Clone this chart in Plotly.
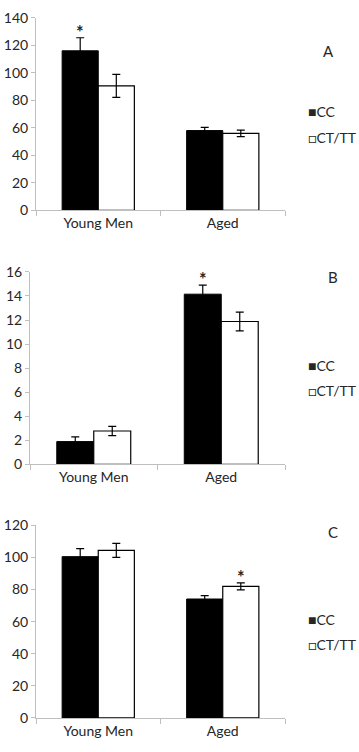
import plotly.graph_objects as go

categories = ["Young Men", "Aged"]
series_names = ["CC", "CT/TT"]

# Panel A
a_cc = [116, 58]
a_cc_err = [9.5, 2.3]
a_ct = [90.5, 56]
a_ct_err = [8.3, 2.4]

# Panel B
b_cc = [1.9, 14.15]
b_cc_err = [0.4, 0.75]
b_ct = [2.78, 11.88]
b_ct_err = [0.38, 0.78]

# Panel C
c_cc = [100.5, 74.1]
c_cc_err = [5.0, 2.1]
c_ct = [104.4, 82.0]
c_ct_err = [4.4, 2.2]

panel_labels = ["A", "B", "C"]
y_ranges = [[0, 140], [0, 16], [0, 120]]
y_dticks = [20, 2, 20]
# significance marks: (panel index, category, series index)
stars = [(0, "Young Men", 0), (1, "Aged", 0), (2, "Aged", 1)]

W, H = 359, 752
FONT = "Lato, 'Open Sans', sans-serif"
TXT = "#262626"
AX = "#bfbfbf"

panels = [
    (a_cc, a_cc_err, a_ct, a_ct_err),
    (b_cc, b_cc_err, b_ct, b_ct_err),
    (c_cc, c_cc_err, c_ct, c_ct_err),
]

# pixel geometry of each plot area (top, bottom, left, right)
geom = [(9, 206, 36, 285), (269, 466, 30, 285), (528.3, 725.3, 36, 285)]

fig = go.Figure()
for i, (cc, cce, ct, cte) in enumerate(panels):
    sfx = "" if i == 0 else str(i + 1)
    fig.add_trace(go.Bar(
        x=categories, y=cc, name=series_names[0],
        marker=dict(color="black", line=dict(color="black", width=1)),
        error_y=dict(type="data", array=cce, color="black", thickness=1.2, width=4),
        xaxis="x" + sfx, yaxis="y" + sfx, showlegend=False,
    ))
    fig.add_trace(go.Bar(
        x=categories, y=ct, name=series_names[1],
        marker=dict(color="white", line=dict(color="black", width=1.2)),
        error_y=dict(type="data", array=cte, color="black", thickness=1.2, width=4),
        xaxis="x" + sfx, yaxis="y" + sfx, showlegend=False,
    ))
    top, bot, left, right = geom[i]
    fig.update_layout(**{
        "xaxis" + sfx: dict(
            domain=[left / W, right / W], anchor="y" + sfx,
            showline=True, linecolor=AX, linewidth=1,
            ticks="outside", tickson="boundaries", ticklen=5, tickcolor=AX,
            tickfont=dict(family=FONT, size=14, color=TXT),
            showgrid=False, zeroline=False, fixedrange=True,
        ),
        "yaxis" + sfx: dict(
            domain=[1 - bot / H, 1 - top / H], anchor="x" + sfx,
            range=y_ranges[i], dtick=y_dticks[i],
            showline=True, linecolor=AX, linewidth=1,
            ticks="outside", ticklen=4, tickcolor=AX,
            tickfont=dict(family=FONT, size=14, color=TXT),
            showgrid=False, zeroline=False, fixedrange=True,
        ),
    })

annotations = []
# panel letters and legend texts
letter_pos = [(328, 43), (333, 274), (333, 535)]
legend_pos = [(105, 131.7), (365, 390.7), (624.3, 650.7)]
for i in range(3):
    lx, ly = letter_pos[i]
    annotations.append(dict(
        text=panel_labels[i], x=lx / W, y=1 - ly / H, xref="paper", yref="paper",
        xanchor="center", yanchor="middle", showarrow=False,
        font=dict(family=FONT, size=15, color=TXT),
    ))
    y1, y2 = legend_pos[i]
    for name, sym, yy in [(series_names[0], "\u25a0", y1), (series_names[1], "\u25a1", y2)]:
        annotations.append(dict(
            text=sym + name, x=306 / W, y=1 - yy / H, xref="paper", yref="paper",
            xanchor="left", yanchor="middle", showarrow=False,
            font=dict(family=FONT, size=14, color=TXT),
        ))

# significance asterisks above error bars
for (pi, cat, si) in stars:
    vals = panels[pi][si * 2]
    errs = panels[pi][si * 2 + 1]
    k = categories.index(cat)
    sfx = "" if pi == 0 else str(pi + 1)
    top, bot, left, right = geom[pi]
    band = (right - left) / len(categories)
    bar_w = band * 0.58 / 2
    shift = -bar_w / 2 if si == 0 else bar_w / 2
    annotations.append(dict(
        text="<b>*</b>", x=cat, y=vals[k] + errs[k], xref="x" + sfx, yref="y" + sfx,
        xanchor="center", yanchor="middle", showarrow=False, xshift=shift, yshift=6,
        font=dict(family=FONT, size=18, color=TXT),
    ))

fig.update_layout(
    width=W, height=H, margin=dict(l=0, r=0, t=0, b=0),
    paper_bgcolor="white", plot_bgcolor="white",
    barmode="group", bargap=0.42, bargroupgap=0,
    annotations=annotations, showlegend=False,
)

fig.write_html("out.html", config={"displayModeBar": False})
